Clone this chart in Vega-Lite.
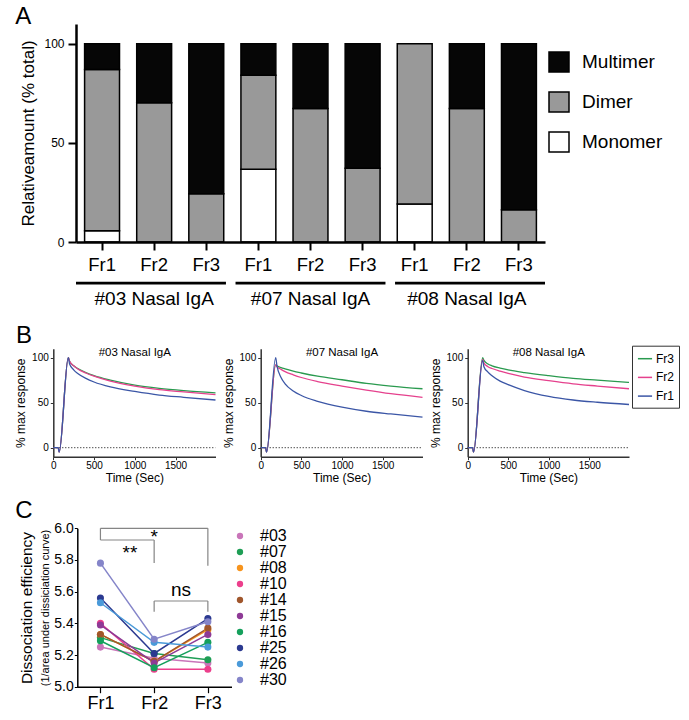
{
  "$schema": "https://vega.github.io/schema/vega-lite/v6.json",
  "width": 689,
  "height": 720,
  "autosize": "none",
  "padding": 0,
  "background": "white",
  "config": {
    "view": {"stroke": null},
    "font": "Liberation Sans",
    "axis": {"grid": false, "labelFont": "Liberation Sans", "titleFont": "Liberation Sans", "titleFontWeight": "normal", "labelColor": "black", "titleColor": "black", "domainColor": "black", "tickColor": "black", "labelFlush": false, "labelOverlap": false},
    "legend": {"labelFont": "Liberation Sans", "labelColor": "black"},
    "text": {"font": "Liberation Sans", "color": "black"}
  },
  "datasets": {
    "a": [
      {"sample": "#03 Fr1", "component": "Monomer", "rank": 1, "pct": 5.7},
      {"sample": "#03 Fr1", "component": "Dimer", "rank": 2, "pct": 81.3},
      {"sample": "#03 Fr1", "component": "Multimer", "rank": 3, "pct": 13},
      {"sample": "#03 Fr2", "component": "Dimer", "rank": 2, "pct": 70.3},
      {"sample": "#03 Fr2", "component": "Multimer", "rank": 3, "pct": 29.7},
      {"sample": "#03 Fr3", "component": "Dimer", "rank": 2, "pct": 24.4},
      {"sample": "#03 Fr3", "component": "Multimer", "rank": 3, "pct": 75.6},
      {"sample": "#07 Fr1", "component": "Monomer", "rank": 1, "pct": 36.7},
      {"sample": "#07 Fr1", "component": "Dimer", "rank": 2, "pct": 47.4},
      {"sample": "#07 Fr1", "component": "Multimer", "rank": 3, "pct": 15.9},
      {"sample": "#07 Fr2", "component": "Dimer", "rank": 2, "pct": 67.3},
      {"sample": "#07 Fr2", "component": "Multimer", "rank": 3, "pct": 32.7},
      {"sample": "#07 Fr3", "component": "Dimer", "rank": 2, "pct": 37.2},
      {"sample": "#07 Fr3", "component": "Multimer", "rank": 3, "pct": 62.8},
      {"sample": "#08 Fr1", "component": "Monomer", "rank": 1, "pct": 19.2},
      {"sample": "#08 Fr1", "component": "Dimer", "rank": 2, "pct": 80.8},
      {"sample": "#08 Fr2", "component": "Dimer", "rank": 2, "pct": 67.3},
      {"sample": "#08 Fr2", "component": "Multimer", "rank": 3, "pct": 32.7},
      {"sample": "#08 Fr3", "component": "Dimer", "rank": 2, "pct": 16.3},
      {"sample": "#08 Fr3", "component": "Multimer", "rank": 3, "pct": 83.7}
    ],
    "grp": [{"group": "#03 Nasal IgA"}, {"group": "#07 Nasal IgA"}, {"group": "#08 Nasal IgA"}],
    "b03": [
      {"fr": "Fr3", "t": 0, "v": 0}, {"fr": "Fr3", "t": 60, "v": 0}, {"fr": "Fr3", "t": 72, "v": -5}, {"fr": "Fr3", "t": 184, "v": 100}, {"fr": "Fr3", "t": 200, "v": 96}, {"fr": "Fr3", "t": 250, "v": 91}, {"fr": "Fr3", "t": 300, "v": 88}, {"fr": "Fr3", "t": 400, "v": 83.5}, {"fr": "Fr3", "t": 500, "v": 80}, {"fr": "Fr3", "t": 700, "v": 75}, {"fr": "Fr3", "t": 1000, "v": 69.5}, {"fr": "Fr3", "t": 1300, "v": 66}, {"fr": "Fr3", "t": 1600, "v": 63.5}, {"fr": "Fr3", "t": 1990, "v": 61},
      {"fr": "Fr2", "t": 0, "v": 0}, {"fr": "Fr2", "t": 60, "v": 0}, {"fr": "Fr2", "t": 72, "v": -5}, {"fr": "Fr2", "t": 184, "v": 100}, {"fr": "Fr2", "t": 200, "v": 96}, {"fr": "Fr2", "t": 250, "v": 91}, {"fr": "Fr2", "t": 300, "v": 87.5}, {"fr": "Fr2", "t": 400, "v": 83}, {"fr": "Fr2", "t": 500, "v": 79.5}, {"fr": "Fr2", "t": 700, "v": 74}, {"fr": "Fr2", "t": 1000, "v": 68.5}, {"fr": "Fr2", "t": 1300, "v": 64.5}, {"fr": "Fr2", "t": 1600, "v": 62}, {"fr": "Fr2", "t": 1990, "v": 59},
      {"fr": "Fr1", "t": 0, "v": 0}, {"fr": "Fr1", "t": 60, "v": 0}, {"fr": "Fr1", "t": 72, "v": -5}, {"fr": "Fr1", "t": 184, "v": 100}, {"fr": "Fr1", "t": 200, "v": 93}, {"fr": "Fr1", "t": 250, "v": 86.5}, {"fr": "Fr1", "t": 300, "v": 82.5}, {"fr": "Fr1", "t": 400, "v": 77}, {"fr": "Fr1", "t": 500, "v": 73}, {"fr": "Fr1", "t": 700, "v": 67.5}, {"fr": "Fr1", "t": 1000, "v": 62.5}, {"fr": "Fr1", "t": 1300, "v": 58.5}, {"fr": "Fr1", "t": 1600, "v": 56}, {"fr": "Fr1", "t": 1990, "v": 53}
    ],
    "b07": [
      {"fr": "Fr3", "t": 0, "v": 0}, {"fr": "Fr3", "t": 60, "v": 0}, {"fr": "Fr3", "t": 72, "v": -5}, {"fr": "Fr3", "t": 184, "v": 92}, {"fr": "Fr3", "t": 200, "v": 91}, {"fr": "Fr3", "t": 250, "v": 89}, {"fr": "Fr3", "t": 300, "v": 87.5}, {"fr": "Fr3", "t": 400, "v": 85}, {"fr": "Fr3", "t": 500, "v": 83}, {"fr": "Fr3", "t": 700, "v": 79.5}, {"fr": "Fr3", "t": 1000, "v": 75.5}, {"fr": "Fr3", "t": 1300, "v": 71.5}, {"fr": "Fr3", "t": 1600, "v": 68.5}, {"fr": "Fr3", "t": 1990, "v": 65.5},
      {"fr": "Fr2", "t": 0, "v": 0}, {"fr": "Fr2", "t": 60, "v": 0}, {"fr": "Fr2", "t": 72, "v": -5}, {"fr": "Fr2", "t": 184, "v": 92}, {"fr": "Fr2", "t": 200, "v": 90}, {"fr": "Fr2", "t": 250, "v": 87}, {"fr": "Fr2", "t": 300, "v": 84.5}, {"fr": "Fr2", "t": 400, "v": 81}, {"fr": "Fr2", "t": 500, "v": 78}, {"fr": "Fr2", "t": 700, "v": 73.5}, {"fr": "Fr2", "t": 1000, "v": 68.5}, {"fr": "Fr2", "t": 1300, "v": 64}, {"fr": "Fr2", "t": 1600, "v": 60}, {"fr": "Fr2", "t": 1990, "v": 56},
      {"fr": "Fr1", "t": 0, "v": 0}, {"fr": "Fr1", "t": 60, "v": 0}, {"fr": "Fr1", "t": 72, "v": -5}, {"fr": "Fr1", "t": 184, "v": 100}, {"fr": "Fr1", "t": 200, "v": 91}, {"fr": "Fr1", "t": 250, "v": 78}, {"fr": "Fr1", "t": 300, "v": 71}, {"fr": "Fr1", "t": 400, "v": 63}, {"fr": "Fr1", "t": 500, "v": 58}, {"fr": "Fr1", "t": 700, "v": 51.5}, {"fr": "Fr1", "t": 1000, "v": 45}, {"fr": "Fr1", "t": 1300, "v": 40.5}, {"fr": "Fr1", "t": 1600, "v": 37.5}, {"fr": "Fr1", "t": 1990, "v": 34}
    ],
    "b08": [
      {"fr": "Fr3", "t": 0, "v": 0}, {"fr": "Fr3", "t": 60, "v": 0}, {"fr": "Fr3", "t": 72, "v": -5}, {"fr": "Fr3", "t": 184, "v": 100}, {"fr": "Fr3", "t": 200, "v": 97}, {"fr": "Fr3", "t": 250, "v": 93}, {"fr": "Fr3", "t": 300, "v": 91}, {"fr": "Fr3", "t": 400, "v": 88.5}, {"fr": "Fr3", "t": 500, "v": 86.5}, {"fr": "Fr3", "t": 700, "v": 83.5}, {"fr": "Fr3", "t": 1000, "v": 80}, {"fr": "Fr3", "t": 1300, "v": 77}, {"fr": "Fr3", "t": 1600, "v": 75}, {"fr": "Fr3", "t": 1990, "v": 72.5},
      {"fr": "Fr2", "t": 0, "v": 0}, {"fr": "Fr2", "t": 60, "v": 0}, {"fr": "Fr2", "t": 72, "v": -5}, {"fr": "Fr2", "t": 184, "v": 98}, {"fr": "Fr2", "t": 200, "v": 94}, {"fr": "Fr2", "t": 250, "v": 90}, {"fr": "Fr2", "t": 300, "v": 88}, {"fr": "Fr2", "t": 400, "v": 85}, {"fr": "Fr2", "t": 500, "v": 82.5}, {"fr": "Fr2", "t": 700, "v": 78.5}, {"fr": "Fr2", "t": 1000, "v": 74.5}, {"fr": "Fr2", "t": 1300, "v": 71}, {"fr": "Fr2", "t": 1600, "v": 68.5}, {"fr": "Fr2", "t": 1990, "v": 65.5},
      {"fr": "Fr1", "t": 0, "v": 0}, {"fr": "Fr1", "t": 60, "v": 0}, {"fr": "Fr1", "t": 72, "v": -5}, {"fr": "Fr1", "t": 184, "v": 97}, {"fr": "Fr1", "t": 200, "v": 90}, {"fr": "Fr1", "t": 250, "v": 84}, {"fr": "Fr1", "t": 300, "v": 80}, {"fr": "Fr1", "t": 400, "v": 74}, {"fr": "Fr1", "t": 500, "v": 70}, {"fr": "Fr1", "t": 700, "v": 63.5}, {"fr": "Fr1", "t": 1000, "v": 57}, {"fr": "Fr1", "t": 1300, "v": 53}, {"fr": "Fr1", "t": 1600, "v": 50.5}, {"fr": "Fr1", "t": 1990, "v": 48}
    ],
    "c": [
      {"id": "#03", "fr": 1, "v": 5.25}, {"id": "#03", "fr": 2, "v": 5.18}, {"id": "#03", "fr": 3, "v": 5.15},
      {"id": "#07", "fr": 1, "v": 5.31}, {"id": "#07", "fr": 2, "v": 5.21}, {"id": "#07", "fr": 3, "v": 5.17},
      {"id": "#08", "fr": 1, "v": 5.33}, {"id": "#08", "fr": 2, "v": 5.16}, {"id": "#08", "fr": 3, "v": 5.36},
      {"id": "#10", "fr": 1, "v": 5.40}, {"id": "#10", "fr": 2, "v": 5.11}, {"id": "#10", "fr": 3, "v": 5.11},
      {"id": "#14", "fr": 1, "v": 5.33}, {"id": "#14", "fr": 2, "v": 5.16}, {"id": "#14", "fr": 3, "v": 5.37},
      {"id": "#15", "fr": 1, "v": 5.39}, {"id": "#15", "fr": 2, "v": 5.15}, {"id": "#15", "fr": 3, "v": 5.33},
      {"id": "#16", "fr": 1, "v": 5.29}, {"id": "#16", "fr": 2, "v": 5.12}, {"id": "#16", "fr": 3, "v": 5.28},
      {"id": "#25", "fr": 1, "v": 5.56}, {"id": "#25", "fr": 2, "v": 5.21}, {"id": "#25", "fr": 3, "v": 5.43},
      {"id": "#26", "fr": 1, "v": 5.53}, {"id": "#26", "fr": 2, "v": 5.28}, {"id": "#26", "fr": 3, "v": 5.25},
      {"id": "#30", "fr": 1, "v": 5.78}, {"id": "#30", "fr": 2, "v": 5.30}, {"id": "#30", "fr": 3, "v": 5.41}
    ],
    "br": [
      {"x1": 1, "x2": 3, "y1": 6.0, "y2": 6.0},
      {"x1": 1, "x2": 1, "y1": 6.0, "y2": 5.926},
      {"x1": 3, "x2": 3, "y1": 6.0, "y2": 5.764},
      {"x1": 1, "x2": 2, "y1": 5.926, "y2": 5.926},
      {"x1": 2, "x2": 2, "y1": 5.926, "y2": 5.781},
      {"x1": 2, "x2": 3, "y1": 5.541, "y2": 5.541},
      {"x1": 2, "x2": 2, "y1": 5.541, "y2": 5.473},
      {"x1": 3, "x2": 3, "y1": 5.541, "y2": 5.473}
    ],
    "st": [
      {"label": "*", "x": 2, "y": 5.905},
      {"label": "**", "x": 1.55, "y": 5.805},
      {"label": "ns", "x": 2.5, "y": 5.573}
    ]
  },
  "resolve": {
    "scale": {"x": "independent", "y": "independent", "color": "independent"},
    "axis": {"x": "independent", "y": "independent"},
    "legend": {"color": "independent"}
  },
  "layer": [
    {
      "resolve": {"scale": {"x": "independent", "y": "independent", "color": "independent"}, "axis": {"x": "independent", "y": "independent"}, "legend": {"color": "independent"}},
      "layer": [
        {
          "data": {"name": "a"},
          "mark": {"type": "bar", "stroke": "black", "strokeWidth": 1.5},
          "encoding": {
            "x": {"field": "sample", "type": "nominal",
              "scale": {"domain": ["#03 Fr1", "#03 Fr2", "#03 Fr3", "#07 Fr1", "#07 Fr2", "#07 Fr3", "#08 Fr1", "#08 Fr2", "#08 Fr3"], "range": [76, 545], "paddingInner": 0.33, "paddingOuter": 0.165},
              "axis": {"orient": "bottom", "offset": -478, "title": null, "labelExpr": "slice(datum.label, -3)", "labelAngle": 0, "labelFontSize": 18.5, "labelPadding": 5, "tickSize": 8, "tickWidth": 2, "domainWidth": 2.5, "zindex": 1}},
            "y": {"field": "pct", "type": "quantitative", "stack": "zero",
              "scale": {"domain": [0, 110], "range": [242, 24], "nice": false},
              "axis": {"orient": "left", "offset": -76, "values": [0, 50, 100], "title": "Relativeamount (% total)", "titleFontSize": 17, "titlePadding": 6, "labelFontSize": 12, "labelPadding": 4, "tickSize": 8, "tickWidth": 2, "domainWidth": 2.5, "zindex": 1}},
            "color": {"field": "component", "type": "nominal",
              "scale": {"domain": ["Multimer", "Dimer", "Monomer"], "range": ["#060606", "#999999", "#ffffff"]},
              "legend": {"orient": "none", "legendX": 548, "legendY": 51, "title": null, "symbolType": "square", "symbolSize": 400, "symbolStrokeColor": "black", "symbolStrokeWidth": 1.5, "labelFontSize": 19, "labelOffset": 12, "rowPadding": 14, "padding": 0}},
            "order": {"field": "rank", "type": "quantitative"}
          }
        },
        {
          "data": {"name": "grp"},
          "mark": {"type": "bar", "color": "black"},
          "encoding": {
            "x": {"field": "group", "type": "nominal", "scale": {"domain": ["#03 Nasal IgA", "#07 Nasal IgA", "#08 Nasal IgA"], "range": [76, 545], "paddingInner": 0.06, "paddingOuter": 0}, "axis": null},
            "y": {"datum": -20.1, "type": "quantitative", "scale": {"domain": [0, 110], "range": [242, 24], "nice": false}, "axis": null},
            "y2": {"datum": -21.4}
          }
        },
        {
          "data": {"name": "grp"},
          "mark": {"type": "text", "fontSize": 19, "baseline": "middle", "align": "center"},
          "encoding": {
            "x": {"field": "group", "type": "nominal", "scale": {"domain": ["#03 Nasal IgA", "#07 Nasal IgA", "#08 Nasal IgA"], "range": [76, 545], "paddingInner": 0.06, "paddingOuter": 0}, "axis": null},
            "y": {"datum": -28.6, "type": "quantitative", "scale": {"domain": [0, 110], "range": [242, 24], "nice": false}, "axis": null},
            "text": {"field": "group"}
          }
        },
        {
          "data": {"values": [{}]},
          "mark": {"type": "text", "text": "A", "fontSize": 24, "baseline": "middle", "align": "center", "dx": -131, "dy": -6.7},
          "encoding": {
            "x": {"datum": "#03 Nasal IgA", "type": "nominal", "scale": {"domain": ["#03 Nasal IgA", "#07 Nasal IgA", "#08 Nasal IgA"], "range": [76, 545], "paddingInner": 0.06, "paddingOuter": 0}, "axis": null},
            "y": {"datum": 110, "type": "quantitative", "scale": {"domain": [0, 110], "range": [242, 24], "nice": false}, "axis": null}
          }
        }
      ]
    },
    {
      "resolve": {"scale": {"x": "independent", "y": "independent", "color": "independent"}, "axis": {"x": "independent", "y": "independent"}, "legend": {"color": "independent"}},
      "layer": [
        {
          "data": {"values": [{}]},
          "mark": {"type": "rule", "color": "black", "strokeWidth": 1, "strokeDash": [1, 2]},
          "encoding": {
            "x": {"datum": 0, "type": "quantitative", "scale": {"domain": [0, 1990], "range": [53.3, 215.5], "nice": false, "zero": false}, "axis": null},
            "x2": {"datum": 1990},
            "y": {"datum": 0, "type": "quantitative", "scale": {"domain": [-10, 110], "range": [456.7, 348.7], "nice": false}, "axis": null}
          }
        },
        {
          "data": {"name": "b03"},
          "mark": {"type": "line", "strokeWidth": 1.3, "interpolate": "monotone"},
          "encoding": {
            "x": {"field": "t", "type": "quantitative", "scale": {"domain": [0, 1990], "range": [53.3, 215.5], "nice": false, "zero": false},
              "axis": {"orient": "bottom", "offset": -263.3, "values": [0, 500, 1000, 1500], "format": "d", "title": "Time (Sec)", "titleFontSize": 12, "titlePadding": 2, "labelFontSize": 10, "labelPadding": 1, "tickSize": 3, "domainColor": "#333", "tickColor": "#333", "domainWidth": 1.5}},
            "y": {"field": "v", "type": "quantitative", "scale": {"domain": [-10, 110], "range": [456.7, 348.7], "nice": false},
              "axis": {"orient": "left", "offset": -53.3, "values": [0, 50, 100], "title": "% max response", "titleFontSize": 12, "titlePadding": 4, "labelFontSize": 10, "labelPadding": 2, "tickSize": 3, "domainColor": "#333", "tickColor": "#333", "domainWidth": 1.5}},
            "color": {"field": "fr", "type": "nominal", "scale": {"domain": ["Fr3", "Fr2", "Fr1"], "range": ["#2a9a4f", "#e5418d", "#3b56a6"]}, "legend": null}
          }
        },
        {
          "data": {"values": [{}]},
          "mark": {"type": "text", "text": "#03 Nasal IgA", "fontSize": 11.5, "baseline": "middle", "align": "center"},
          "encoding": {
            "x": {"datum": 1000, "type": "quantitative", "scale": {"domain": [0, 1990], "range": [53.3, 215.5], "nice": false, "zero": false}, "axis": null},
            "y": {"datum": 105, "type": "quantitative", "scale": {"domain": [-10, 110], "range": [456.7, 348.7], "nice": false}, "axis": null}
          }
        },
        {
          "data": {"values": [{}]},
          "mark": {"type": "text", "text": "B", "fontSize": 24, "baseline": "middle", "align": "center", "dx": -29.3, "dy": -12.7},
          "encoding": {
            "x": {"datum": 0, "type": "quantitative", "scale": {"domain": [0, 1990], "range": [53.3, 215.5], "nice": false, "zero": false}, "axis": null},
            "y": {"datum": 110, "type": "quantitative", "scale": {"domain": [-10, 110], "range": [456.7, 348.7], "nice": false}, "axis": null}
          }
        }
      ]
    },
    {
      "resolve": {"scale": {"x": "independent", "y": "independent", "color": "independent"}, "axis": {"x": "independent", "y": "independent"}, "legend": {"color": "independent"}},
      "layer": [
        {
          "data": {"values": [{}]},
          "mark": {"type": "rule", "color": "black", "strokeWidth": 1, "strokeDash": [1, 2]},
          "encoding": {
            "x": {"datum": 0, "type": "quantitative", "scale": {"domain": [0, 1990], "range": [260.7, 422.5], "nice": false, "zero": false}, "axis": null},
            "x2": {"datum": 1990},
            "y": {"datum": 0, "type": "quantitative", "scale": {"domain": [-10, 110], "range": [456.7, 348.7], "nice": false}, "axis": null}
          }
        },
        {
          "data": {"name": "b07"},
          "mark": {"type": "line", "strokeWidth": 1.3, "interpolate": "monotone"},
          "encoding": {
            "x": {"field": "t", "type": "quantitative", "scale": {"domain": [0, 1990], "range": [260.7, 422.5], "nice": false, "zero": false},
              "axis": {"orient": "bottom", "offset": -263.3, "values": [0, 500, 1000, 1500], "format": "d", "title": "Time (Sec)", "titleFontSize": 12, "titlePadding": 2, "labelFontSize": 10, "labelPadding": 1, "tickSize": 3, "domainColor": "#333", "tickColor": "#333", "domainWidth": 1.5}},
            "y": {"field": "v", "type": "quantitative", "scale": {"domain": [-10, 110], "range": [456.7, 348.7], "nice": false},
              "axis": {"orient": "left", "offset": -260.7, "values": [0, 50, 100], "title": "% max response", "titleFontSize": 12, "titlePadding": 4, "labelFontSize": 10, "labelPadding": 2, "tickSize": 3, "domainColor": "#333", "tickColor": "#333", "domainWidth": 1.5}},
            "color": {"field": "fr", "type": "nominal", "scale": {"domain": ["Fr3", "Fr2", "Fr1"], "range": ["#2a9a4f", "#e5418d", "#3b56a6"]}, "legend": null}
          }
        },
        {
          "data": {"values": [{}]},
          "mark": {"type": "text", "text": "#07 Nasal IgA", "fontSize": 11.5, "baseline": "middle", "align": "center"},
          "encoding": {
            "x": {"datum": 1000, "type": "quantitative", "scale": {"domain": [0, 1990], "range": [260.7, 422.5], "nice": false, "zero": false}, "axis": null},
            "y": {"datum": 105, "type": "quantitative", "scale": {"domain": [-10, 110], "range": [456.7, 348.7], "nice": false}, "axis": null}
          }
        }
      ]
    },
    {
      "resolve": {"scale": {"x": "independent", "y": "independent", "color": "independent"}, "axis": {"x": "independent", "y": "independent"}, "legend": {"color": "independent"}},
      "layer": [
        {
          "data": {"values": [{}]},
          "mark": {"type": "rule", "color": "black", "strokeWidth": 1, "strokeDash": [1, 2]},
          "encoding": {
            "x": {"datum": 0, "type": "quantitative", "scale": {"domain": [0, 1990], "range": [467.7, 629], "nice": false, "zero": false}, "axis": null},
            "x2": {"datum": 1990},
            "y": {"datum": 0, "type": "quantitative", "scale": {"domain": [-10, 110], "range": [456.7, 348.7], "nice": false}, "axis": null}
          }
        },
        {
          "data": {"name": "b08"},
          "mark": {"type": "line", "strokeWidth": 1.3, "interpolate": "monotone"},
          "encoding": {
            "x": {"field": "t", "type": "quantitative", "scale": {"domain": [0, 1990], "range": [467.7, 629], "nice": false, "zero": false},
              "axis": {"orient": "bottom", "offset": -263.3, "values": [0, 500, 1000, 1500], "format": "d", "title": "Time (Sec)", "titleFontSize": 12, "titlePadding": 2, "labelFontSize": 10, "labelPadding": 1, "tickSize": 3, "domainColor": "#333", "tickColor": "#333", "domainWidth": 1.5}},
            "y": {"field": "v", "type": "quantitative", "scale": {"domain": [-10, 110], "range": [456.7, 348.7], "nice": false},
              "axis": {"orient": "left", "offset": -467.7, "values": [0, 50, 100], "title": "% max response", "titleFontSize": 12, "titlePadding": 4, "labelFontSize": 10, "labelPadding": 2, "tickSize": 3, "domainColor": "#333", "tickColor": "#333", "domainWidth": 1.5}},
            "color": {"field": "fr", "type": "nominal", "scale": {"domain": ["Fr3", "Fr2", "Fr1"], "range": ["#2a9a4f", "#e5418d", "#3b56a6"]},
              "legend": {"orient": "none", "legendX": 632, "legendY": 345.7, "title": null, "padding": 5, "strokeColor": "#333", "labelFontSize": 12, "labelOffset": 3, "rowPadding": 4.7, "symbolType": "stroke", "symbolSize": 200, "symbolStrokeWidth": 1.5}}
          }
        },
        {
          "data": {"values": [{}]},
          "mark": {"type": "text", "text": "#08 Nasal IgA", "fontSize": 11.5, "baseline": "middle", "align": "center"},
          "encoding": {
            "x": {"datum": 1000, "type": "quantitative", "scale": {"domain": [0, 1990], "range": [467.7, 629], "nice": false, "zero": false}, "axis": null},
            "y": {"datum": 105, "type": "quantitative", "scale": {"domain": [-10, 110], "range": [456.7, 348.7], "nice": false}, "axis": null}
          }
        }
      ]
    },
    {
      "resolve": {"scale": {"x": "independent", "y": "independent", "color": "independent"}, "axis": {"x": "independent", "y": "independent"}, "legend": {"color": "independent"}},
      "layer": [
        {
          "data": {"name": "c"},
          "mark": {"type": "line", "strokeWidth": 1.5},
          "encoding": {
            "x": {"field": "fr", "type": "quantitative", "scale": {"domain": [0.56, 3.44], "range": [76.8, 231.5], "nice": false, "zero": false}, "axis": null},
            "y": {"field": "v", "type": "quantitative", "scale": {"domain": [5, 6], "range": [686.7, 528.3], "nice": false, "zero": false}, "axis": null},
            "color": {"field": "id", "type": "nominal", "scale": {"domain": ["#03", "#07", "#08", "#10", "#14", "#15", "#16", "#25", "#26", "#30"], "range": ["#c975b9", "#1e9e55", "#f7941d", "#ec3f8c", "#a0562c", "#8e3a96", "#15a05c", "#2b3990", "#4a9ad9", "#8585c9"]}, "legend": null}
          }
        },
        {
          "data": {"name": "c"},
          "mark": {"type": "point", "filled": true, "size": 50, "opacity": 1},
          "encoding": {
            "x": {"field": "fr", "type": "quantitative", "scale": {"domain": [0.56, 3.44], "range": [76.8, 231.5], "nice": false, "zero": false},
              "axis": {"orient": "bottom", "offset": -33.3, "values": [1, 2, 3], "labelExpr": "'Fr' + datum.value", "title": null, "labelFontSize": 18, "labelPadding": 2, "tickSize": 6, "domainWidth": 1.5, "tickWidth": 1.2}},
            "y": {"field": "v", "type": "quantitative", "scale": {"domain": [5, 6], "range": [686.7, 528.3], "nice": false, "zero": false},
              "axis": {"orient": "left", "offset": -77.3, "values": [5, 5.2, 5.4, 5.6, 5.8, 6], "format": ".1f", "title": "(1/area under dissiciation curve)", "titleFontSize": 11, "titlePadding": 3, "labelFontSize": 14, "labelPadding": 1, "tickSize": 3, "domainWidth": 1.5}},
            "color": {"field": "id", "type": "nominal", "scale": {"domain": ["#03", "#07", "#08", "#10", "#14", "#15", "#16", "#25", "#26", "#30"], "range": ["#c975b9", "#1e9e55", "#f7941d", "#ec3f8c", "#a0562c", "#8e3a96", "#15a05c", "#2b3990", "#4a9ad9", "#8585c9"]},
              "legend": {"orient": "none", "legendX": 232, "legendY": 528, "title": null, "symbolType": "circle", "symbolSize": 40, "labelFontSize": 16, "labelOffset": 12, "rowPadding": 0, "padding": 0}}
          }
        },
        {
          "data": {"name": "st"},
          "mark": {"type": "text", "fontSize": 19, "baseline": "alphabetic", "align": "center"},
          "encoding": {
            "x": {"field": "x", "type": "quantitative", "scale": {"domain": [0.56, 3.44], "range": [76.8, 231.5], "nice": false, "zero": false}, "axis": null},
            "y": {"field": "y", "type": "quantitative", "scale": {"domain": [5, 6], "range": [686.7, 528.3], "nice": false, "zero": false}, "axis": null},
            "text": {"field": "label"}
          }
        },
        {
          "data": {"values": [{}]},
          "mark": {"type": "text", "text": "C", "fontSize": 24, "baseline": "middle", "align": "center", "dx": -76.4, "dy": -17.3},
          "encoding": {
            "x": {"datum": 1, "type": "quantitative", "scale": {"domain": [0.56, 3.44], "range": [76.8, 231.5], "nice": false, "zero": false}, "axis": null},
            "y": {"datum": 6, "type": "quantitative", "scale": {"domain": [5, 6], "range": [686.7, 528.3], "nice": false, "zero": false}, "axis": null}
          }
        },
        {
          "data": {"name": "br"},
          "mark": {"type": "rule", "color": "#858585", "strokeWidth": 1.2},
          "encoding": {
            "x": {"field": "x1", "type": "quantitative", "scale": {"domain": [0.56, 3.44], "range": [76.8, 231.5], "nice": false, "zero": false}, "axis": null},
            "x2": {"field": "x2"},
            "y": {"field": "y1", "type": "quantitative", "scale": {"domain": [5, 6], "range": [686.7, 528.3], "nice": false, "zero": false},
              "axis": {"orient": "left", "offset": -77.3, "title": "Dissociation efficiency", "titleFontSize": 15.5, "titlePadding": 42.8, "labels": false, "ticks": false, "domain": false}},
            "y2": {"field": "y2"}
          }
        }
      ]
    }
  ]
}
